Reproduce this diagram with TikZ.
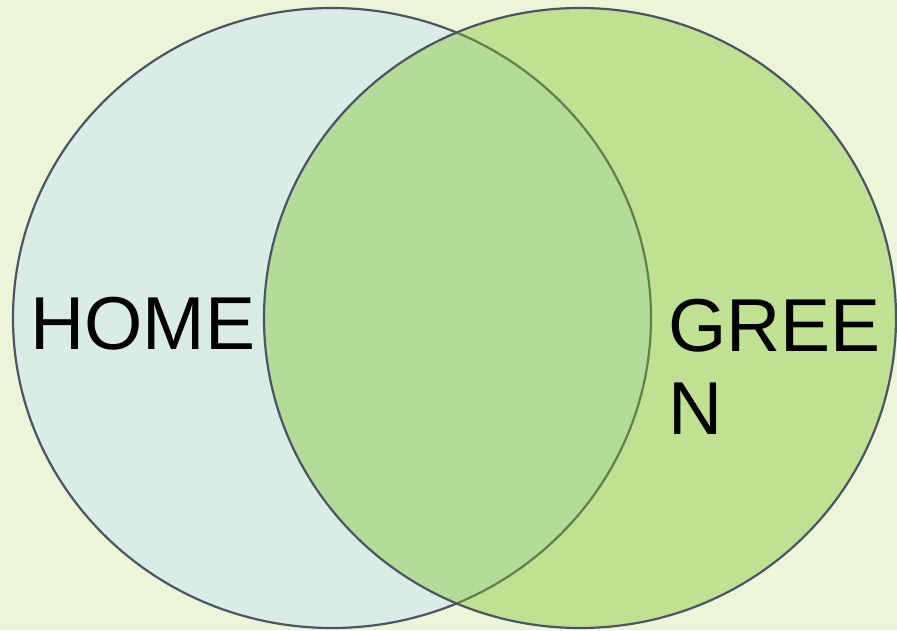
\documentclass[tikz,border=0pt]{standalone}
\usepackage{fontspec}
\setmainfont{Liberation Sans}
\usetikzlibrary{shapes.geometric}
\definecolor{bgc}{RGB}{237,245,217}
\definecolor{homefill}{RGB}{218,236,230}
\definecolor{greenfill}{RGB}{125,195,37}
\definecolor{edge}{RGB}{75,85,99}
\begin{document}
\begin{tikzpicture}[x=1pt,y=1pt,
  setc/.style={draw=edge, line width=2.2pt},
  lbl/.style={inner sep=0pt, font=\fontsize{75}{83}\selectfont, text=black}]
\fill[bgc] (0,0) rectangle (897,630);
\useasboundingbox (0,0) rectangle (897,630);
\node[setc, fill=homefill, ellipse, minimum width=638, minimum height=620, inner sep=0pt] (home) at (332,312) {};
\node[setc, fill=greenfill, fill opacity=0.4, draw opacity=1, ellipse, minimum width=632, minimum height=620, inner sep=0pt] (green) at (580,312) {};
\node[lbl, anchor=base west] (homet) at (30,280) {HOME};
\node[lbl, anchor=base west, align=left] (greent) at (668,196) {GREE\\N};
\end{tikzpicture}
\end{document}
